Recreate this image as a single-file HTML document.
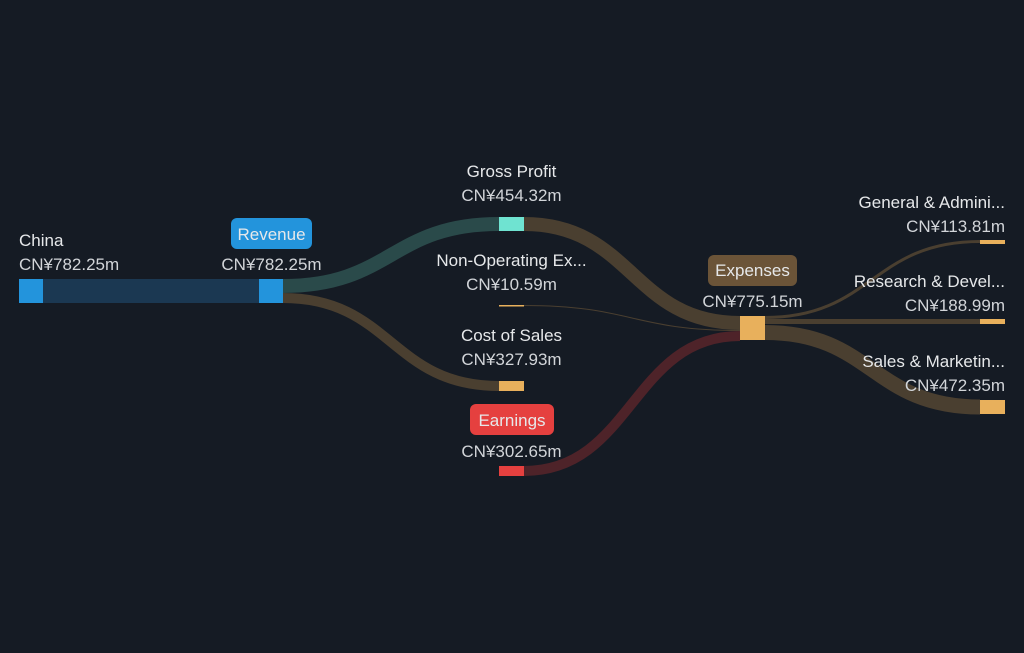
<!DOCTYPE html>
<html><head><meta charset="utf-8"><style>
html,body{margin:0;padding:0;background:#151b24;}
svg{display:block}
text{font-family:"Liberation Sans",sans-serif;font-size:17px;fill:#e6e8ea;}
.v{fill:#d2d5d9}
</style></head><body>
<svg width="1024" height="653" viewBox="0 0 1024 653">
<rect width="1024" height="653" fill="#151b24"/>
<rect x="43" y="279" width="216" height="24" fill="#1b3852"/>
<path d="M283,286 C391,286 391,224 499,224" stroke="#2a4a4a" stroke-width="14" fill="none"/>
<path d="M283,298 C391,298 391,386 499,386" stroke="#4a3f30" stroke-width="10" fill="none"/>
<path d="M524,224 C632,224 632,323 740,323" stroke="#4a3f30" stroke-width="14" fill="none"/>
<path d="M524,305.5 C632,305.5 632,330.5 740,330.5" stroke="#4a3f30" stroke-width="1" fill="none"/>
<path d="M524,471 C632,471 632,336 740,336" stroke="#4e2329" stroke-width="10" fill="none"/>
<path d="M765,317.5 C872,317.5 872,241.5 980,241.5" stroke="#4a3f30" stroke-width="3" fill="none"/>
<path d="M765,321.5 C872,321.5 872,321.5 980,321.5" stroke="#4a3f30" stroke-width="5" fill="none"/>
<path d="M765,332.5 C872,332.5 872,407 980,407" stroke="#4a3f30" stroke-width="15" fill="none"/>
<rect x="19" y="279" width="24" height="24" fill="#2394dc"/>
<rect x="259" y="279" width="24" height="24" fill="#2394dc"/>
<rect x="499" y="217" width="25" height="14" fill="#6fe3d1"/>
<rect x="499" y="305" width="25" height="1.5" fill="#e8b05c"/>
<rect x="499" y="381" width="25" height="10" fill="#e8b05c"/>
<rect x="499" y="466" width="25" height="10" fill="#e5403f"/>
<rect x="740" y="316" width="25" height="24" fill="#e8b05c"/>
<rect x="980" y="240" width="25" height="4" fill="#e8b05c"/>
<rect x="980" y="319" width="25" height="5" fill="#e8b05c"/>
<rect x="980" y="400" width="25" height="14" fill="#e8b05c"/>
<text x="19" y="246">China</text>
<text x="19" y="270" class="v">CN¥782.25m</text>
<rect x="231" y="218" width="81" height="31" rx="6" fill="#2394dc"/>
<text x="271.5" y="240" text-anchor="middle">Revenue</text>
<text x="271.5" y="270" class="v" text-anchor="middle">CN¥782.25m</text>
<text x="511.5" y="177" text-anchor="middle">Gross Profit</text>
<text x="511.5" y="201" class="v" text-anchor="middle">CN¥454.32m</text>
<text x="511.5" y="266" text-anchor="middle">Non-Operating Ex...</text>
<text x="511.5" y="290" class="v" text-anchor="middle">CN¥10.59m</text>
<text x="511.5" y="341" text-anchor="middle">Cost of Sales</text>
<text x="511.5" y="365" class="v" text-anchor="middle">CN¥327.93m</text>
<rect x="470" y="404" width="84" height="31" rx="6" fill="#e5403f"/>
<text x="512" y="426" text-anchor="middle">Earnings</text>
<text x="511.5" y="457" class="v" text-anchor="middle">CN¥302.65m</text>
<rect x="708" y="255" width="89" height="31" rx="6" fill="#6b5438"/>
<text x="752.5" y="276" text-anchor="middle">Expenses</text>
<text x="752.5" y="307" class="v" text-anchor="middle">CN¥775.15m</text>
<text x="1005" y="208" text-anchor="end">General &amp; Admini...</text>
<text x="1005" y="232" class="v" text-anchor="end">CN¥113.81m</text>
<text x="1005" y="287" text-anchor="end">Research &amp; Devel...</text>
<text x="1005" y="311" class="v" text-anchor="end">CN¥188.99m</text>
<text x="1005" y="367" text-anchor="end">Sales &amp; Marketin...</text>
<text x="1005" y="391" class="v" text-anchor="end">CN¥472.35m</text>
</svg>
</body></html>
